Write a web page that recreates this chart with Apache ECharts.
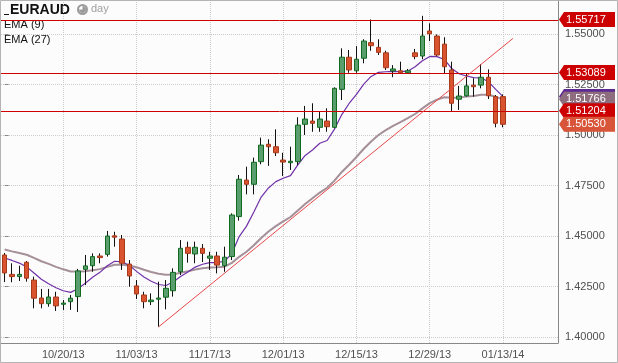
<!DOCTYPE html>
<html><head><meta charset="utf-8">
<script src="https://cdn.jsdelivr.net/npm/echarts@6/dist/echarts.min.js"></script>
<style>html,body{margin:0;padding:0;background:#fcfcfc}#c{width:618px;height:363px}</style>
</head><body><div id="c"></div>
<script>
// ---- data ----
const dates = ['10/09/13','10/10/13','10/11/13','10/14/13','10/15/13','10/16/13','10/17/13','10/18/13','10/21/13','10/22/13','10/23/13','10/24/13','10/25/13','10/28/13','10/29/13','10/30/13','10/31/13',
'11/01/13','11/04/13','11/05/13','11/06/13','11/07/13','11/08/13','11/11/13','11/12/13','11/13/13','11/14/13','11/15/13','11/18/13','11/19/13','11/20/13','11/21/13','11/22/13','11/25/13','11/26/13','11/27/13','11/28/13','11/29/13',
'12/02/13','12/03/13','12/04/13','12/05/13','12/06/13','12/09/13','12/10/13','12/11/13','12/12/13','12/13/13','12/16/13','12/17/13','12/18/13','12/19/13','12/20/13','12/23/13','12/24/13','12/25/13','12/26/13','12/27/13','12/30/13','12/31/13',
'01/01/14','01/02/14','01/03/14','01/06/14','01/07/14','01/08/14','01/09/14','01/10/14','01/13/14',
'01/14/14','01/15/14','01/16/14','01/17/14','01/20/14','01/21/14','01/22/14'];

const opens = [1.4406,1.4310,1.4299,1.4370,1.4282,1.4193,1.4165,1.4198,1.4162,1.4175,
1.4200,1.4335,1.4353,1.4401,1.4409,1.4501,1.4485,1.4361,1.4253,1.4208,
1.4175,1.4187,1.4197,1.4229,1.4323,1.4444,1.4411,1.4439,1.4390,1.4401,
1.4353,1.4398,1.4596,1.4777,1.4756,1.4868,1.4954,1.4942,1.4876,1.4863,
1.4868,1.5053,1.5069,1.5038,1.5069,1.5038,1.5226,1.5385,1.5318,1.5380,
1.5457,1.5434,1.5407,1.5317,1.5318,1.5308,1.5407,1.5391,1.5515,1.5490,
1.5450,1.5322,1.5177,1.5194,1.5247,1.5247,1.5286,1.5190,1.5190];
const closes = [1.4317,1.4299,1.4310,1.4291,1.4192,1.4165,1.4198,1.4154,1.4168,1.4192,
1.4327,1.4352,1.4398,1.4393,1.4500,1.4494,1.4365,1.4302,1.4213,1.4175,
1.4183,1.4193,1.4241,1.4320,1.4439,1.4414,1.4444,1.4414,1.4401,1.4356,
1.4395,1.4604,1.4781,1.4756,1.4865,1.4950,1.4942,1.4912,1.4866,1.4870,
1.5049,1.5079,1.5058,1.5079,1.5041,1.5231,1.5385,1.5322,1.5375,1.5465,
1.5442,1.5409,1.5333,1.5327,1.5308,1.5318,1.5388,1.5490,1.5501,1.5396,
1.5338,1.5157,1.5193,1.5243,1.5239,1.5286,1.5194,1.5058,1.50530];
const lows = [1.4272,1.4271,1.4277,1.4274,1.4142,1.4142,1.4150,1.4129,1.4134,1.4134,
1.4124,1.4257,1.4323,1.4365,1.4398,1.4447,1.4332,1.4249,1.4188,1.4142,
1.4158,1.4051,1.4137,1.4200,1.4307,1.4368,1.4365,1.4371,1.4332,1.4315,
1.4323,1.4381,1.4576,1.4706,1.4706,1.4855,1.4847,1.4896,1.4797,1.4827,
1.4851,1.5000,1.5016,1.5016,1.5016,1.5033,1.5173,1.5308,1.5308,1.5355,
1.5417,1.5396,1.5322,1.5286,1.5307,1.5304,1.5375,1.5375,1.5465,1.5391,
1.5302,1.5119,1.5124,1.5190,1.5190,1.5231,1.5178,1.5038,1.5038];
const highs = [1.4416,1.4365,1.4353,1.4376,1.4299,1.4238,1.4238,1.4224,1.4183,1.4208,
1.4337,1.4406,1.4414,1.4414,1.4525,1.4521,1.4505,1.4381,1.4282,1.4224,
1.4216,1.4274,1.4282,1.4340,1.4480,1.4472,1.4472,1.4460,1.4422,1.4422,
1.4447,1.4612,1.4802,1.4843,1.4888,1.4987,1.4979,1.5028,1.4912,1.4942,
1.5088,1.5144,1.5157,1.5115,1.5132,1.5236,1.5429,1.5421,1.5440,1.5474,
1.5572,1.5474,1.5417,1.5346,1.5363,1.5327,1.5426,1.5590,1.5553,1.5498,
1.5484,1.5363,1.5243,1.5302,1.5281,1.5351,1.5325,1.5198,1.5201];

const ema9 = [1.4391,1.4379,1.4366,1.4347,1.4317,1.4286,1.4264,1.4244,1.4229,1.4221,
1.4239,1.4266,1.4296,1.4320,1.4353,1.4375,1.4372,1.4355,1.4325,1.4297,
1.4276,1.4260,1.4255,1.4272,1.4300,1.4322,1.4346,1.4360,1.4368,1.4368,
1.4375,1.4413,1.4497,1.4549,1.4619,1.4693,1.4738,1.4769,1.4786,1.4799,
1.4852,1.4899,1.4926,1.4959,1.4973,1.5029,1.5101,1.5156,1.5201,1.5252,
1.5290,1.5310,1.5313,1.5315,1.5314,1.5316,1.5338,1.5368,1.5389,1.5388,
1.5374,1.5329,1.5303,1.5292,1.5284,1.5283,1.5264,1.5226,1.5190];
const ema27 = [1.4433,1.4424,1.4416,1.4407,1.4392,1.4375,1.4362,1.4347,1.4335,1.4324,
1.4324,1.4326,1.4331,1.4336,1.4347,1.4358,1.4358,1.4354,1.4345,1.4333,
1.4322,1.4313,1.4308,1.4309,1.4318,1.4325,1.4334,1.4340,1.4344,1.4345,
1.4348,1.4367,1.4397,1.4422,1.4454,1.4490,1.4522,1.4549,1.4572,1.4594,
1.4626,1.4658,1.4687,1.4715,1.4739,1.4774,1.4817,1.4853,1.4891,1.4932,
1.4968,1.5000,1.5024,1.5045,1.5064,1.5083,1.5104,1.5132,1.5158,1.5175,
1.5187,1.5185,1.5185,1.5190,1.5193,1.5199,1.5199,1.5189,1.51766];

const levels = [1.55717, 1.53089, 1.51204];
const trendX = [21, 69.35];
const trendY = [1.4050, 1.5478];

const tickAt = ['10/21/13','11/04/13','11/18/13','12/02/13','12/16/13','12/30/13','01/13/14'];
const tickLabels = ['10/20/13','11/03/13','11/17/13','12/01/13','12/15/13','12/29/13','01/13/14'];

// ---- build ----
const FONT = '"Liberation Sans", Arial, sans-serif';
const nC = opens.length;
const wick = opens.map((o, i) => [o, closes[i], lows[i], highs[i]]);
const body = opens.map((o, i) => [o, closes[i], Math.min(o, closes[i]), Math.max(o, closes[i])]);
const showTick = (idx, name) => tickAt.indexOf(name) >= 0;

const tagVals = [levels[0], levels[1], ema9[nC - 1], ema27[nC - 1], levels[2], closes[nC - 1]];
const tagCols = ['#cc0000', '#cc0000', '#5e2a92', '#8d6d7e', '#cc0000', '#d9553a'];

const chart = echarts.init(document.getElementById('c'));
chart.setOption({
  backgroundColor: '#fcfcfc',
  animation: false,
  grid: [
    {left: 1, right: 60, top: -16.5, height: 404, outerBoundsMode: 'none', containLabel: false},
    {left: 1, right: 60, top: 0, height: 343, outerBoundsMode: 'none', containLabel: false}
  ],
  xAxis: [
    {type: 'category', gridIndex: 0, data: dates, show: false},
    {type: 'category', gridIndex: 1, data: dates,
      axisLine: {onZero: false, lineStyle: {color: '#888', width: 1}},
      axisTick: {alignWithLabel: true, interval: showTick, length: 4, lineStyle: {color: '#888'}},
      axisLabel: {interval: showTick, formatter: (v) => tickLabels[tickAt.indexOf(v)],
        color: '#505050', fontSize: 11, fontFamily: FONT, margin: 6},
      splitLine: {show: true, interval: showTick, alignWithLabel: true,
        lineStyle: {color: '#cdcdcd', type: 'dotted', width: 1}}},
    {type: 'value', gridIndex: 0, min: -0.5, max: dates.length - 0.5, show: false}
  ],
  yAxis: [
    {type: 'value', gridIndex: 0, position: 'right', min: 1.375, max: 1.575, interval: 0.025,
      axisLine: {show: false},
      axisTick: {show: true, length: 4, lineStyle: {color: '#888'}},
      axisLabel: {formatter: (v) => v.toFixed(5), color: '#505050', fontSize: 11, fontFamily: FONT, margin: 7},
      splitLine: {show: true, lineStyle: {color: '#cdcdcd', type: 'dotted', width: 1}}},
    {type: 'value', gridIndex: 1, position: 'right',
      axisLine: {show: true, onZero: false, lineStyle: {color: '#888'}},
      axisTick: {show: false}, axisLabel: {show: false}, splitLine: {show: false}}
  ],
  series: [
    {type: 'line', name: 'EMA (27)', xAxisIndex: 0, yAxisIndex: 0, data: ema27, symbol: 'none',
      lineStyle: {color: '#a58f99', width: 2}, z: 2, silent: true},
    {type: 'line', name: 'EMA (9)', xAxisIndex: 0, yAxisIndex: 0, data: ema9, symbol: 'none',
      lineStyle: {color: '#7030a8', width: 1.2}, z: 2, silent: true},
    {type: 'candlestick', xAxisIndex: 0, yAxisIndex: 0, data: wick, barWidth: 0.01, z: 3, silent: true,
      itemStyle: {color: '#111', color0: '#111', borderColor: '#111', borderColor0: '#111', borderWidth: 1}},
    {type: 'candlestick', xAxisIndex: 0, yAxisIndex: 0, data: body, barWidth: 5, z: 4, silent: true,
      itemStyle: {color: '#5a9e6e', color0: '#d9532f', borderColor: '#106b20', borderColor0: '#a83a1c', borderWidth: 1}},
    {type: 'line', xAxisIndex: 2, yAxisIndex: 0, data: trendX.map((x, i) => [x, trendY[i]]), symbol: 'none',
      lineStyle: {color: '#e8474a', width: 1}, z: 5, silent: true},
    {type: 'custom', xAxisIndex: 0, yAxisIndex: 0, clip: false, z: 5, silent: true,
      data: levels.map((v) => [0, v]), encode: {x: 0, y: 1},
      renderItem: (params, api) => {
        const y = Math.round(api.coord([0, api.value(1)])[1]) + 0.5;
        const cs = params.coordSys;
        return {type: 'line', shape: {x1: cs.x, y1: y, x2: cs.x + cs.width, y2: y},
          style: {stroke: '#cc0000', lineWidth: 1}};
      }},
    {type: 'custom', xAxisIndex: 0, yAxisIndex: 0, clip: false, z: 10, silent: true,
      data: tagVals.map((v) => [0, v]), encode: {x: 0, y: 1},
      renderItem: (params, api) => {
        const v = api.value(1);
        const y = api.coord([0, v])[1];
        const x0 = params.coordSys.x + params.coordSys.width;
        const c = tagCols[params.dataIndex];
        return {type: 'group', children: [
          {type: 'polygon', shape: {points: [[x0 + 1, y], [x0 + 6, y - 7.5], [x0 + 57, y - 7.5], [x0 + 57, y + 7.5], [x0 + 6, y + 7.5]]},
            style: {fill: c}},
          {type: 'text', style: {text: v.toFixed(5), x: x0 + 8, y: y, verticalAlign: 'middle',
            fill: '#ffffff', font: '11px ' + FONT}}
        ]};
      }}
  ],
  graphic: [
    {type: 'rect', shape: {x: 0.5, y: 0.5, width: 617, height: 362}, style: {fill: 'none', stroke: '#b4b4b4', lineWidth: 1}, silent: true, z: 100},
    {type: 'line', shape: {x1: 4, y1: 14.5, x2: 9, y2: 14.5}, style: {stroke: '#111', lineWidth: 1}, silent: true},
    {type: 'text', x: 10, y: 10, style: {text: 'EURAUD', font: 'bold 14px ' + FONT, fill: '#111', verticalAlign: 'middle'}, silent: true},
    {type: 'circle', shape: {cx: 82.5, cy: 9.5, r: 5.5}, style: {fill: '#9b9b9b'}, silent: true},
    {type: 'circle', shape: {cx: 82.5, cy: 9.5, r: 3.5}, style: {fill: '#fcfcfc'}, silent: true},
    {type: 'sector', shape: {cx: 82.5, cy: 9.5, r0: 0, r: 3.5, startAngle: -Math.PI / 2, endAngle: Math.PI}, style: {fill: '#9b9b9b'}, silent: true},
    {type: 'text', x: 91, y: 9, style: {text: 'day', font: '11px ' + FONT, fill: '#a0a0a0', verticalAlign: 'middle'}, silent: true},
    {type: 'text', x: 4, y: 24.5, style: {text: 'EMA (9)', font: '11px ' + FONT, fill: '#111', verticalAlign: 'middle'}, silent: true},
    {type: 'text', x: 4, y: 39.5, style: {text: 'EMA (27)', font: '11px ' + FONT, fill: '#111', verticalAlign: 'middle'}, silent: true}
  ]
});
</script>
</body></html>
